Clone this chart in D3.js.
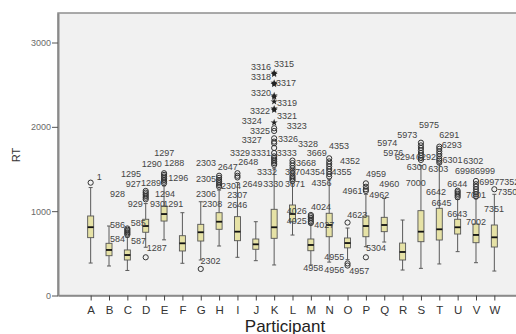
<!DOCTYPE html>
<html>
<head>
<meta charset="utf-8">
<script src="https://cdn.jsdelivr.net/npm/d3@7"></script>
<style>
  body { margin: 0; background: #fff; }
  svg { display: block; font-family: "Liberation Sans", Arial, sans-serif; }
</style>
</head>
<body>
<svg id="chart" width="516" height="334"></svg>
<script>
const participants = ['A','B','C','D','E','F','G','H','I','J','K','L','M','N','O','P','Q','R','S','T','U','V','W'];

// five-number summaries per participant (RT, ms)
const whiskerLow  = [385, 350, 297, 572, 660, 382, 421, 587, 453, 413, 362, 717, 362, 396, 425, 579, 634, 302, 322, 374, 520, 389, 290];
const q1          = [686, 472, 421, 750, 883, 528, 646, 785, 650, 548, 678, 875, 531, 697, 565, 697, 757, 421, 638, 658, 729, 626, 575];
const median      = [810, 540, 480, 824, 966, 619, 750, 875, 757, 607, 809, 967, 599, 836, 622, 824, 836, 516, 757, 785, 809, 718, 690];
const q3          = [943, 619, 540, 904, 1061, 709, 844, 982, 935, 670, 1022, 1073, 670, 975, 682, 943, 927, 622, 1006, 1034, 904, 848, 836];
const whiskerHigh = [1280, 824, 690, 1090, 1300, 982, 1112, 1250, 1340, 875, 1510, 1330, 840, 1380, 800, 1200, 1150, 895, 1540, 1560, 1140, 1150, 1200];

// outliers (circles) per participant
const outliers = [
  [1338],
  [],
  [720, 735, 750, 765, 780, 795],
  [453, 1140, 1160, 1180, 1200, 1220, 1240],
  [1330, 1350, 1370, 1390, 1410, 1430, 1450],
  [],
  [315],
  [1290, 1310, 1330, 1350, 1370, 1395, 1420],
  [1400, 1420, 1450],
  [],
  [1550, 1570, 1590, 1610, 1630, 1650, 1690, 1750, 1805, 1825, 1864, 1951, 1983],
  [1360, 1380, 1400, 1420, 1450, 1480, 1510, 1540, 1570, 1600],
  [860, 880, 900, 920, 940, 955],
  [1410, 1440, 1470, 1500, 1530, 1560, 1590, 1627],
  [355, 380, 865],
  [453, 1240, 1260, 1290, 1330],
  [],
  [],
  [1607, 1630, 1660, 1690, 1720, 1750, 1780, 1812],
  [1575, 1600, 1620, 1650, 1680, 1710, 1740, 1765],
  [1165, 1185, 1205, 1225, 1243],
  [1172, 1200, 1230, 1260, 1290, 1320, 1358],
  [1260]
];

// extreme values (stars), participant K only
const extremeParticipant = 'K';
const extremes = [2050, 2200, 2215, 2300, 2355, 2370, 2505, 2520, 2625, 2640];

// case labels: [text, position along participant axis (0 = A), RT]
const caseLabels = [
  ['1', 0.33, 1400],
  ['1297', 3.47, 1690], ['1290', 2.78, 1560], ['1288', 4.01, 1570], ['1295', 1.65, 1440],
  ['1296', 4.23, 1390], ['927', 1.91, 1320], ['1289', 2.74, 1330], ['928', 1.05, 1200],
  ['1294', 3.50, 1200], ['929', 2.02, 1090], ['930', 3.23, 1080], ['1291', 3.96, 1080],
  ['586', 1.05, 840], ['585', 2.18, 860], ['584', 1.05, 670], ['587', 2.20, 650], ['1287', 3.05, 560],
  ['2302', 5.99, 410], ['2303', 5.74, 1570], ['2305', 5.74, 1380], ['2304', 7.10, 1300],
  ['2306', 5.74, 1200], ['2308', 6.08, 1080], ['2647', 6.92, 1520], ['2648', 8.04, 1580],
  ['2307', 7.44, 1190], ['2646', 7.44, 1070], ['2649', 8.28, 1320],
  ['3316', 8.74, 2710], ['3315', 9.99, 2750], ['3318', 8.74, 2590], ['3317', 10.10, 2520],
  ['3320', 8.74, 2400], ['3319', 10.15, 2280], ['3322', 8.68, 2190], ['3321', 10.15, 2130],
  ['3324', 8.23, 2070], ['3323', 10.68, 2010], ['3325', 8.68, 1950], ['3326', 10.21, 1850],
  ['3327', 8.23, 1840], ['3328', 11.30, 1800], ['3329', 7.59, 1690], ['3331', 8.74, 1690],
  ['3333', 10.14, 1690], ['3332', 9.06, 1460], ['3330', 9.41, 1320],
  ['3669', 11.77, 1690], ['3668', 11.19, 1570], ['3670', 10.59, 1460], ['3671', 10.59, 1320],
  ['4026', 10.68, 1000], ['4025', 10.68, 880], ['4024', 12.01, 1050], ['4027', 12.19, 840],
  ['4958', 11.59, 330], ['4353', 12.99, 1770], ['4352', 13.59, 1590], ['4354', 11.68, 1460],
  ['4355', 13.13, 1470], ['4356', 12.04, 1330], ['4955', 12.73, 460], ['4956', 12.73, 300],
  ['4957', 14.09, 290],
  ['4623', 13.98, 950], ['4959', 15.00, 1440], ['4961', 13.73, 1240], ['4962', 15.18, 1190],
  ['4960', 15.73, 1320], ['5304', 15.00, 560],
  ['5975', 17.89, 2020], ['5973', 16.71, 1900], ['5974', 15.62, 1810], ['5976', 15.95, 1690],
  ['6294', 16.58, 1640], ['6292', 17.73, 1640], ['6291', 19.00, 1900], ['6293', 19.13, 1780],
  ['6301', 19.18, 1610], ['6302', 20.31, 1600], ['6300', 17.22, 1520], ['6303', 18.40, 1500],
  ['7000', 17.17, 1330], ['6998', 19.85, 1480], ['6999', 20.94, 1480], ['6644', 19.43, 1320],
  ['6642', 18.27, 1230], ['6997', 21.18, 1350], ['7352', 22.27, 1350], ['7001', 20.45, 1190],
  ['7350', 22.16, 1230], ['6645', 18.58, 1100], ['6643', 19.43, 970], ['7351', 21.43, 1030],
  ['7002', 20.45, 870]
];

const yTicks = [0, 1000, 2000, 3000];

const svg = d3.select('#chart');

const plot = { left: 58, right: 527, top: 13, bottom: 295.5 };

const x = d3.scalePoint()
  .domain(participants)
  .range([plot.left, plot.right])
  .padding(1.78);

const y = d3.scaleLinear()
  .domain([0, 3350])
  .range([plot.bottom, plot.top]);

// continuous position along the participant axis, for case labels
const caseX = d3.scaleLinear()
  .domain([0, participants.length - 1])
  .range([x(participants[0]), x(participants[participants.length - 1])]);

// Plot background + frame
svg.append('rect')
  .attr('x', plot.left)
  .attr('y', plot.top)
  .attr('width', plot.right - plot.left + 10)
  .attr('height', plot.bottom - plot.top)
  .attr('fill', '#f1f1f1')
  .attr('stroke', '#8e8e8e')
  .attr('stroke-width', 1.5);

// Axes
const yAxis = svg.append('g')
  .attr('transform', `translate(${plot.left},0)`)
  .call(d3.axisLeft(y).tickValues(yTicks).tickFormat(d3.format('d')).tickSize(6).tickPadding(1).tickSizeOuter(0));
yAxis.select('.domain').attr('stroke', '#8a8a8a').attr('stroke-width', 2);
yAxis.selectAll('.tick line').attr('stroke', '#555');
yAxis.selectAll('.tick text')
  .attr('fill', '#6a6a6a')
  .style('font-size', '9px')
  .style('font-family', '"Liberation Sans", Arial, sans-serif');

const xAxis = svg.append('g')
  .attr('transform', `translate(0,${plot.bottom})`)
  .call(d3.axisBottom(x).tickSize(5).tickPadding(5.5).tickSizeOuter(0));
xAxis.select('.domain').attr('stroke', '#8a8a8a').attr('stroke-width', 1.5);
xAxis.selectAll('.tick line').attr('stroke', '#444');
xAxis.selectAll('.tick text')
  .attr('fill', '#333')
  .style('font-size', '11.5px')
  .style('font-family', '"Liberation Sans", Arial, sans-serif');

// Axis titles
svg.append('text')
  .attr('transform', 'translate(19.5,155) rotate(-90)')
  .attr('text-anchor', 'middle')
  .attr('fill', '#333')
  .style('font-size', '11px')
  .text('RT');

svg.append('text')
  .attr('x', 285)
  .attr('y', 332)
  .attr('text-anchor', 'middle')
  .attr('fill', '#222')
  .style('font-size', '17px')
  .text('Participant');

// Boxplots
const boxW = 6;
const capW = 4;
const rows = participants.map((p, i) => ({
  p,
  low: whiskerLow[i],
  q1: q1[i],
  med: median[i],
  q3: q3[i],
  high: whiskerHigh[i]
}));

const g = svg.append('g');

const boxes = g.selectAll('.box')
  .data(rows)
  .enter()
  .append('g')
  .attr('class', 'box');

boxes.append('line')
  .attr('x1', d => x(d.p))
  .attr('x2', d => x(d.p))
  .attr('y1', d => y(d.low))
  .attr('y2', d => y(d.high))
  .attr('stroke', '#5a5a5a')
  .attr('stroke-width', 1);

['low', 'high'].forEach(k => {
  boxes.append('line')
    .attr('x1', d => x(d.p) - capW / 2)
    .attr('x2', d => x(d.p) + capW / 2)
    .attr('y1', d => y(d[k]))
    .attr('y2', d => y(d[k]))
    .attr('stroke', '#5a5a5a')
    .attr('stroke-width', 1);
});

boxes.append('rect')
  .attr('x', d => x(d.p) - boxW / 2)
  .attr('y', d => y(d.q3))
  .attr('width', boxW)
  .attr('height', d => y(d.q1) - y(d.q3))
  .attr('fill', '#e6e2a6')
  .attr('stroke', '#555')
  .attr('stroke-width', 0.9);

boxes.append('line')
  .attr('x1', d => x(d.p) - boxW / 2)
  .attr('x2', d => x(d.p) + boxW / 2)
  .attr('y1', d => y(d.med))
  .attr('y2', d => y(d.med))
  .attr('stroke', '#111')
  .attr('stroke-width', 1.8);

// Outliers
const outPoints = [];
participants.forEach((p, i) => outliers[i].forEach(v => outPoints.push({ p, v })));

g.selectAll('.out')
  .data(outPoints)
  .enter()
  .append('circle')
  .attr('class', 'out')
  .attr('cx', d => x(d.p))
  .attr('cy', d => y(d.v))
  .attr('r', 2.6)
  .attr('fill', 'none')
  .attr('stroke', '#333')
  .attr('stroke-width', 1);

// Extremes
g.selectAll('.ext')
  .data(extremes)
  .enter()
  .append('path')
  .attr('class', 'ext')
  .attr('transform', d => `translate(${x(extremeParticipant)},${y(d)})`)
  .attr('d', d3.symbol(d3.symbolStar, 16))
  .attr('fill', '#222');

// Case labels
g.selectAll('.case')
  .data(caseLabels)
  .enter()
  .append('text')
  .attr('class', 'case')
  .attr('x', d => caseX(d[1]))
  .attr('y', d => y(d[2]))
  .attr('dominant-baseline', 'central')
  .attr('fill', '#444')
  .style('font-size', '9px')
  .text(d => d[0]);
</script>
</body>
</html>
